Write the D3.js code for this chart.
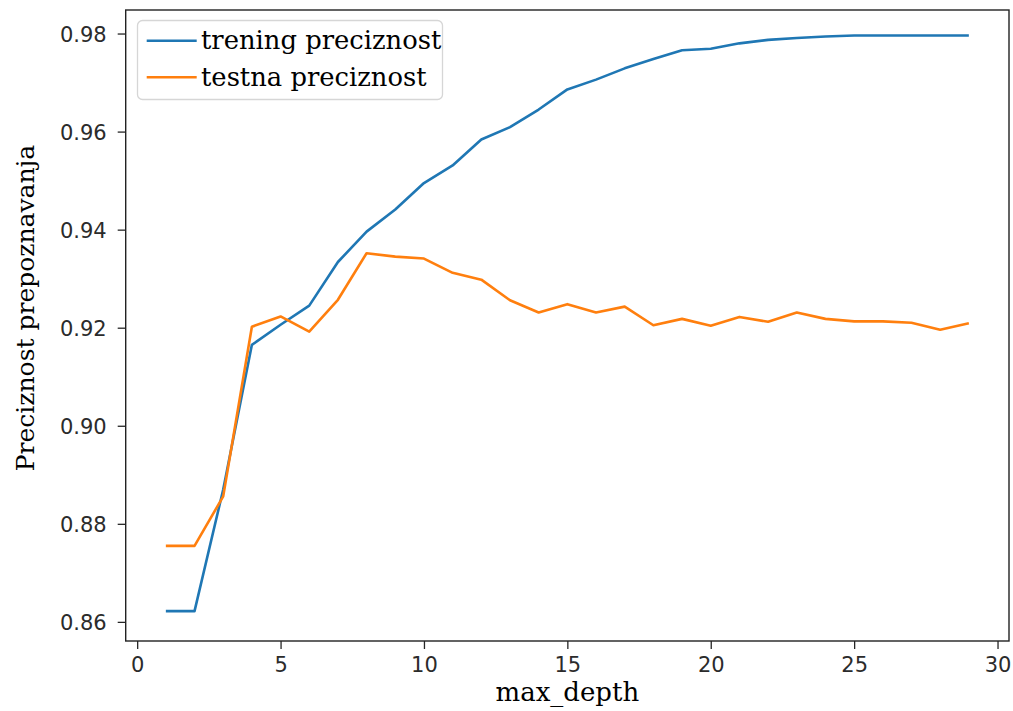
<!DOCTYPE html>
<html lang='en'>
    <head>
        <script src="https://d3js.org/d3.v7.min.js"></script>
    </head>
    <style>
        body{
            margin:0px;
            padding:0px;
            background-color:white;
        }
        svg{
            display:block;
        }
        .tick text{
            font-family:'DejaVu Sans',sans-serif;
            font-size:21px;
            fill:#2b2b2b;
        }
        .tick line{
            stroke:#262626;
            stroke-width:1.3;
        }
        .serif{
            font-family:'DejaVu Serif',serif;
            fill:#000;
        }
    </style>
    <body>
        <svg id="chart" width="1013" height="711"></svg>
        <script>
            // max_depth vs. precision (train / test)
            const depths=[1,2,3,4,5,6,7,8,9,10,11,12,13,14,15,16,17,18,19,20,21,22,23,24,25,26,27,28,29];
            const trainAcc=[0.8622,0.8622,0.8870,0.9165,0.9206,0.9245,0.9334,0.9396,0.9441,0.9495,
                            0.9531,0.9584,0.9609,0.9645,0.9686,0.9706,0.9729,0.9748,0.9766,0.9769,
                            0.9780,0.9787,0.9791,0.9794,0.9796,0.9796,0.9796,0.9796,0.9796];
            const testAcc=[0.8755,0.8755,0.8856,0.9202,0.9223,0.9192,0.9257,0.9352,0.9345,0.9341,
                           0.9312,0.9298,0.9256,0.9231,0.9248,0.9231,0.9243,0.9205,0.9218,0.9204,
                           0.9222,0.9212,0.9231,0.9218,0.9213,0.9213,0.9210,0.9196,0.9209];
            const xTicks=[0,5,10,15,20,25,30];
            const yTicks=[0.86,0.88,0.90,0.92,0.94,0.96,0.98];
            const seriesNames=['trening preciznost','testna preciznost'];
            const colors=['#1f77b4','#ff7f0e'];

            const mLeft=125.7, mRight=1009, mTop=10, mBottom=641;

            const xScale=d3.scaleLinear()
                           .domain([-0.4,30.4])
                           .range([mLeft,mRight]);
            const yScale=d3.scaleLinear()
                           .domain([0.8561,0.9848])
                           .range([mBottom,mTop]);

            const svg=d3.select('svg');

            const line=d3.line()
                         .x((d,i)=>xScale(depths[i]))
                         .y(d=>yScale(d));

            [trainAcc,testAcc].forEach((s,k)=>{
                svg.append('path')
                   .datum(s)
                   .attr('d',line)
                   .attr('fill','none')
                   .attr('stroke',colors[k])
                   .attr('stroke-width',2.6)
                   .attr('stroke-linejoin','round');
            });

            const xAxis=d3.axisBottom(xScale)
                          .tickValues(xTicks)
                          .tickFormat(d3.format('d'))
                          .tickSize(8)
                          .tickPadding(8);
            const yAxis=d3.axisLeft(yScale)
                          .tickValues(yTicks)
                          .tickFormat(d3.format('.2f'))
                          .tickSize(8)
                          .tickPadding(11);

            const gx=svg.append('g')
               .attr('transform','translate(0,'+mBottom+')')
               .call(xAxis);
            gx.select('.domain').remove();
            const gy=svg.append('g')
               .attr('transform','translate('+mLeft+',0)')
               .call(yAxis);
            gy.select('.domain').remove();
            gy.selectAll('.tick text').attr('dy','0.36em');

            // frame
            svg.append('rect')
               .attr('x',mLeft)
               .attr('y',mTop)
               .attr('width',mRight-mLeft)
               .attr('height',mBottom-mTop)
               .attr('fill','none')
               .attr('stroke','#222')
               .attr('stroke-width',1.4);

            // legend
            const lg=svg.append('g');
            lg.append('rect')
              .attr('x',137.5).attr('y',20.5)
              .attr('width',305).attr('height',79)
              .attr('rx',5)
              .attr('fill','white')
              .attr('fill-opacity',0.85)
              .attr('stroke','#d6d6d6')
              .attr('stroke-width',1.3);
            seriesNames.forEach((name,k)=>{
                const yy=40.7+k*36.6;
                lg.append('line')
                  .attr('x1',146.7).attr('x2',196.7)
                  .attr('y1',yy).attr('y2',yy)
                  .attr('stroke',colors[k])
                  .attr('stroke-width',2.6);
                lg.append('text')
                  .attr('class','serif')
                  .attr('x',201)
                  .attr('y',yy)
                  .attr('dy','0.33em')
                  .style('font-size','25.8px')
                  .text(name);
            });

            // axis labels
            svg.append('text')
               .attr('class','serif')
               .attr('x',(mLeft+mRight)/2)
               .attr('y',701)
               .attr('text-anchor','middle')
               .style('font-size','26px')
               .text('max_depth');
            svg.append('text')
               .attr('class','serif')
               .attr('transform','translate(34,308) rotate(-90)')
               .attr('text-anchor','middle')
               .style('font-size','25px')
               .text('Preciznost prepoznavanja');
        </script>
    </body>
</html>
